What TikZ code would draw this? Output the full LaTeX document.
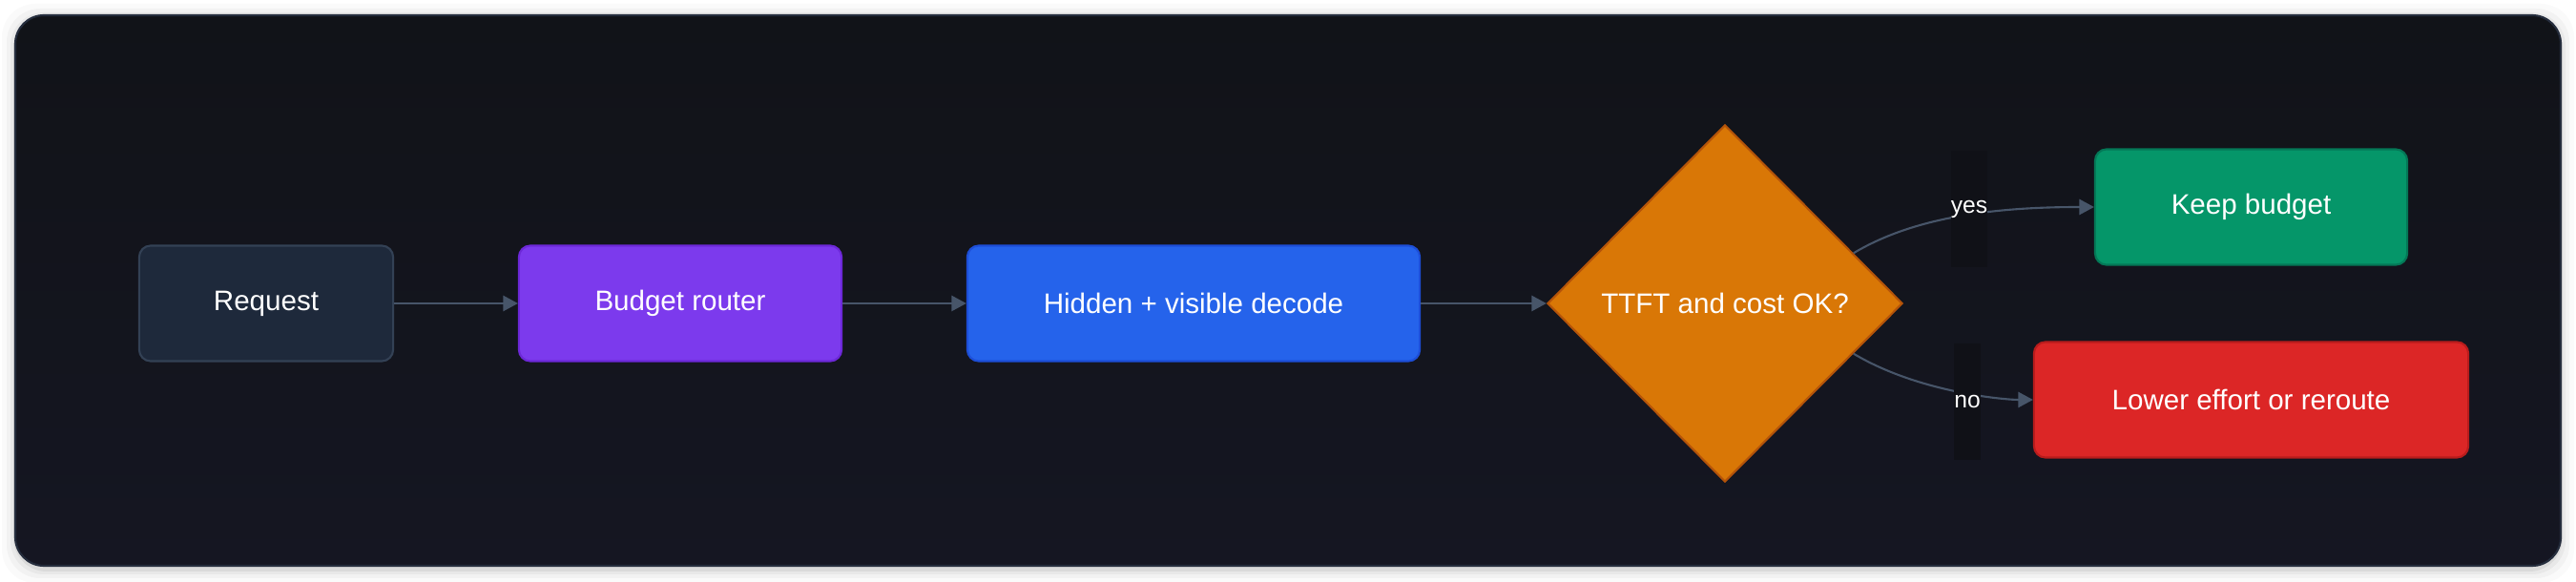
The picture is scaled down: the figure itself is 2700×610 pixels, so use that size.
\documentclass[tikz,border=0pt]{standalone}
\usepackage{fontspec}
\setmainfont{Liberation Sans}
\usetikzlibrary{shapes.geometric,arrows.meta,calc}

\definecolor{panelTop}{HTML}{111318}
\definecolor{panelBot}{HTML}{151622}
\definecolor{panelLine}{HTML}{252D3D}
\definecolor{reqFill}{HTML}{1E293B}
\definecolor{reqLine}{HTML}{334155}
\definecolor{routerFill}{HTML}{7C3AED}
\definecolor{routerLine}{HTML}{6D28D9}
\definecolor{decodeFill}{HTML}{2563EB}
\definecolor{decodeLine}{HTML}{1D4ED8}
\definecolor{okFill}{HTML}{D97706}
\definecolor{okLine}{HTML}{B45309}
\definecolor{keepFill}{HTML}{059669}
\definecolor{keepLine}{HTML}{047857}
\definecolor{lowFill}{HTML}{DC2626}
\definecolor{lowLine}{HTML}{B91C1C}
\definecolor{edgeGray}{HTML}{475569}
\definecolor{lblBg}{HTML}{101117}

\begin{document}
\begin{tikzpicture}[
      x=0.01cm,y=-0.01cm,
      font=\fontsize{8.4}{10}\selectfont,
      object/.style={draw,line width=0.6pt,rounded corners=0.12cm,text=white,minimum height=1.21cm},
      decision/.style={diamond,draw,line width=0.6pt,text=white,inner sep=0pt,minimum width=3.72cm,minimum height=3.74cm},
      to/.style={-{Triangle[length=4.4pt,width=4.6pt]},line width=0.6pt,draw=edgeGray},
      lbl/.style={fill=lblBg,text=white,font=\fontsize{7}{8}\selectfont,inner xsep=0pt,minimum height=1.22cm},
      ]

    % Page and panel
    \useasboundingbox (0,0) rectangle (2700,610);
    \fill[white] (0,0) rectangle (2700,610);
    \foreach \s/\o in {14/0.02,9/0.03,5/0.04,2/0.06}
      \fill[black,opacity=\o,rounded corners=0.35cm] ({16-\s},{18-\s}) rectangle ({2684+\s},{597+\s});
    \draw[panelLine,line width=0.6pt,rounded corners=0.3cm,top color=panelTop,bottom color=panelBot] (16,16) rectangle (2684,593);

    % Position the nodes
    \node[object,fill=reqFill,draw=reqLine,minimum width=2.66cm] (req) at (279,318) {Request};
    \node[object,fill=routerFill,draw=routerLine,minimum width=3.38cm] (router) at (713,318) {Budget router};
    \node[object,fill=decodeFill,draw=decodeLine,minimum width=4.74cm] (decode) at (1251,318) {Hidden + visible decode};
    \node[decision,fill=okFill,draw=okLine] (ok) at (1808,318) {TTFT and cost OK?};
    \node[object,fill=keepFill,draw=keepLine,minimum width=3.27cm] (keep) at (2359.5,217) {Keep budget};
    \node[object,fill=lowFill,draw=lowLine,minimum width=4.55cm] (lower) at (2359.5,419) {Lower effort or reroute};

    % Draw the arrows and labels
    \draw[to] (req) -- (router);
    \draw[to] (router) -- (decode);
    \draw[to] (decode) -- (ok);

    \coordinate (yesout) at ($(ok.north)!0.72!(ok.east)$);
    \coordinate (noout) at ($(ok.south)!0.72!(ok.east)$);
    \draw[to] (yesout) .. controls (2010,225) and (2100,217) .. (keep.west);
    \draw[to] (noout) .. controls (2010,411) and (2100,419) .. (lower.west);
    \node[lbl] (yes) at (2064,219) {yes};
    \node[lbl] (no) at (2062,421) {no};

  \end{tikzpicture}
\end{document}
